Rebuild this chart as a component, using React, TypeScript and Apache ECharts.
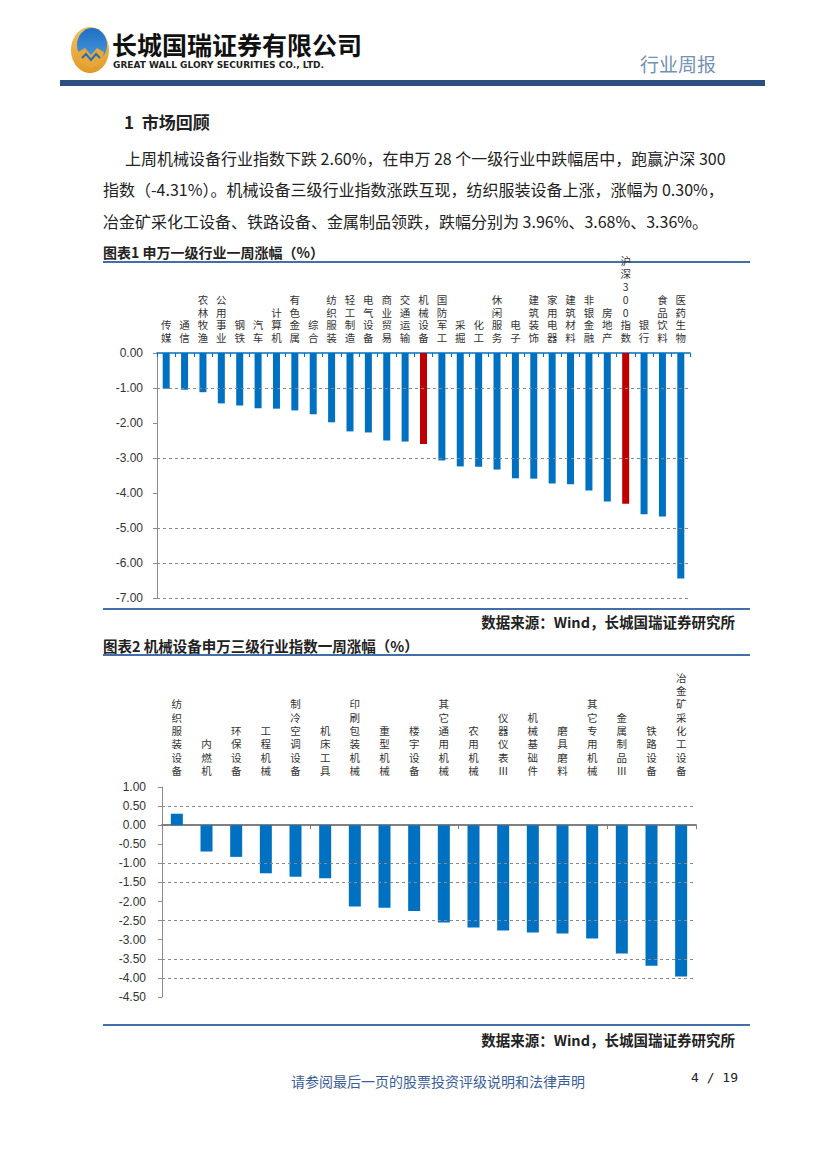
import React, { useEffect, useRef } from "react";
import * as echarts from "echarts";

const cats1 = ["传媒", "通信", "农林牧渔", "公用事业", "钢铁", "汽车", "计算机", "有色金属", "综合", "纺织服装", "轻工制造", "电气设备", "商业贸易", "交通运输", "机械设备", "国防军工", "采掘", "化工", "休闲服务", "电子", "建筑装饰", "家用电器", "建筑材料", "非银金融", "房地产", "沪深300指数", "银行", "食品饮料", "医药生物"];
const vals1 = [-1.02, -1.05, -1.12, -1.44, -1.50, -1.58, -1.59, -1.64, -1.75, -1.98, -2.24, -2.27, -2.50, -2.53, -2.60, -3.07, -3.24, -3.25, -3.33, -3.58, -3.59, -3.73, -3.75, -3.93, -4.24, -4.31, -4.61, -4.67, -6.44];
const highlight1 = ["机械设备", "沪深300指数"];
const grid1Lines = [-1, -3, -5, -6, -7];

const cats2 = ["纺织服装设备", "内燃机", "环保设备", "工程机械", "制冷空调设备", "机床工具", "印刷包装机械", "重型机械", "楼宇设备", "其它通用机械", "农用机械", "仪器仪表Ⅲ", "机械基础件", "磨具磨料", "其它专用机械", "金属制品Ⅲ", "铁路设备", "冶金矿采化工设备"];
const vals2 = [0.30, -0.69, -0.83, -1.26, -1.35, -1.39, -2.13, -2.16, -2.25, -2.55, -2.68, -2.76, -2.81, -2.84, -2.97, -3.36, -3.68, -3.96];
const grid2Lines = [0.5, -1, -1.5, -2.5, -3.5, -4];

const para = [
  "上周机械设备行业指数下跌 2.60%，在申万 28 个一级行业中跌幅居中，跑赢沪深 300",
  "指数（-4.31%）。机械设备三级行业指数涨跌互现，纺织服装设备上涨，涨幅为 0.30%，",
  "冶金矿采化工设备、铁路设备、金属制品领跌，跌幅分别为 3.96%、3.68%、3.36%。",
];

const FONT = "'Noto Sans CJK SC', 'Noto Sans', sans-serif";
const BLUE = "#0070C0";
const RED = "#C00000";
const RULE = "#4170A8";
const GRIDC = "#8a8a8a";

const vertical = (v: string) => v.split("").join("\n");

export default function App() {
  const ref = useRef<HTMLDivElement>(null);
  useEffect(() => {
    if (!ref.current) return;
    const chart = echarts.init(ref.current, undefined, { renderer: "svg" });

    const txt = (x: number, y: number, text: string, style: any = {}) => ({
      type: "text",
      x,
      y,
      silent: true,
      style: { text, fontFamily: FONT, fill: "#222", fontSize: 15, verticalAlign: "middle", align: "left", ...style },
    });
    const rule = (y: number, x1: number, x2: number, color = RULE, w = 2) => ({
      type: "line",
      silent: true,
      shape: { x1, y1: y, x2, y2: y },
      style: { stroke: color, lineWidth: w },
    });

    const gridLineSeries = (lines: number[], xi: number, yi: number) => ({
      type: "line",
      xAxisIndex: xi,
      yAxisIndex: yi,
      data: [],
      silent: true,
      markLine: {
        silent: true,
        symbol: ["none", "none"],
        label: { show: false },
        lineStyle: { type: [3, 3], color: GRIDC, width: 1 },
        data: lines.map((v) => ({ yAxis: v })),
      },
    });

    chart.setOption({
      animation: false,
      backgroundColor: "#ffffff",
      grid: [
        { left: 157, top: 353, width: 533, height: 245, containLabel: false },
        { left: 162, top: 787, width: 534, height: 210, containLabel: false },
      ],
      xAxis: [
        {
          type: "category",
          gridIndex: 0,
          position: "top",
          data: cats1,
          axisLine: { show: true, onZero: true, lineStyle: { color: BLUE, width: 1.5 } },
          axisTick: { show: true, inside: true, length: 4, lineStyle: { color: BLUE } },
          axisLabel: { interval: 0, formatter: vertical, fontSize: 10.5, lineHeight: 12.8, color: "#333", margin: 9, fontFamily: FONT },
        },
        {
          type: "category",
          gridIndex: 1,
          position: "top",
          data: cats2,
          axisLine: { show: false, onZero: false },
          axisTick: { show: false },
          axisLabel: { interval: 0, formatter: vertical, fontSize: 10.5, lineHeight: 13.3, color: "#333", margin: 10, fontFamily: FONT },
        },
        {
          type: "category",
          gridIndex: 1,
          position: "bottom",
          data: cats2,
          axisLine: { show: true, onZero: true, lineStyle: { color: "#808080", width: 2 } },
          axisTick: { show: true, length: 4, lineStyle: { color: "#808080" } },
          axisLabel: { show: false },
        },
      ],
      yAxis: [
        {
          type: "value",
          gridIndex: 0,
          min: -7,
          max: 0,
          interval: 1,
          axisLine: { show: true, lineStyle: { color: "#8c8c8c" } },
          axisTick: { show: true, length: 4, lineStyle: { color: "#8c8c8c" } },
          splitLine: { show: false },
          axisLabel: { formatter: (v: number) => v.toFixed(2), fontSize: 12, color: "#333", margin: 14, fontFamily: "Arial, 'Liberation Sans', sans-serif" },
        },
        {
          type: "value",
          gridIndex: 1,
          min: -4.5,
          max: 1,
          interval: 0.5,
          axisLine: { show: true, lineStyle: { color: "#8c8c8c" } },
          axisTick: { show: true, length: 4, lineStyle: { color: "#8c8c8c" } },
          splitLine: { show: false },
          axisLabel: { formatter: (v: number) => v.toFixed(2), fontSize: 12, color: "#333", margin: 16, fontFamily: "Arial, 'Liberation Sans', sans-serif" },
        },
      ],
      series: [
        gridLineSeries(grid1Lines, 0, 0),
        {
          type: "bar",
          xAxisIndex: 0,
          yAxisIndex: 0,
          barWidth: 7,
          data: vals1.map((v, i) => ({
            value: v,
            itemStyle: { color: highlight1.includes(cats1[i]) ? RED : BLUE },
          })),
        },
        gridLineSeries(grid2Lines, 2, 1),
        {
          type: "bar",
          xAxisIndex: 2,
          yAxisIndex: 1,
          barWidth: 12,
          itemStyle: { color: BLUE },
          data: vals2,
        },
      ],
      graphic: [
        // logo
        {
          type: "ellipse",
          silent: true,
          shape: { cx: 90, cy: 50, rx: 19, ry: 23 },
          style: {
            fill: new echarts.graphic.LinearGradient(0, 0, 0, 1, [
              { offset: 0, color: "#F2C060" },
              { offset: 1, color: "#E09A2A" },
            ]),
          },
        },
        {
          type: "ellipse",
          silent: true,
          shape: { cx: 92, cy: 45, rx: 15, ry: 17 },
          style: {
            fill: new echarts.graphic.LinearGradient(0, 0, 0, 1, [
              { offset: 0, color: "#1F6FC2" },
              { offset: 1, color: "#4A9AE0" },
            ]),
          },
        },
        {
          type: "polygon",
          silent: true,
          shape: { points: [[78, 52], [85, 48], [91, 55], [97, 48], [104, 52], [102, 62], [91, 68], [80, 62]] },
          style: { fill: "#E8A838" },
        },
        {
          type: "polyline",
          silent: true,
          shape: { points: [[82, 58], [86, 54], [91, 60], [96, 54], [100, 58]] },
          style: { stroke: "#1F6FC2", lineWidth: 2, fill: "none" },
        },
        txt(112, 44, "长城国瑞证券有限公司", { fontSize: 25, fontWeight: "bold", fill: "#111" }),
        txt(113, 65, "GREAT WALL GLORY SECURITIES CO., LTD.", { fontSize: 9, fontWeight: "bold", fill: "#222", fontFamily: "'DejaVu Sans', sans-serif" }),
        txt(640, 63, "行业周报", { fontSize: 19, fill: "#7391B4" }),
        {
          type: "rect",
          silent: true,
          shape: { x: 60, y: 80, width: 705, height: 6 },
          style: { fill: "#2B4F7E" },
        },
        txt(124, 121, "1  市场回顾", { fontSize: 17, fontWeight: "bold", fill: "#222" }),
        txt(125, 158, para[0], { fontSize: 16, fill: "#222" }),
        txt(103, 189, para[1], { fontSize: 16, fill: "#222" }),
        txt(103, 221, para[2], { fontSize: 16, fill: "#222" }),
        txt(103, 252, "图表1 申万一级行业一周涨幅（%）", { fontSize: 14, fontWeight: "bold", fill: "#222" }),
        rule(262, 103, 750),
        rule(609, 103, 750),
        txt(735, 621, "数据来源：Wind，长城国瑞证券研究所", { fontSize: 14.5, fontWeight: "bold", align: "right", fill: "#222" }),
        txt(103, 645, "图表2 机械设备申万三级行业指数一周涨幅（%）", { fontSize: 14.5, fontWeight: "bold", fill: "#222" }),
        rule(655, 103, 750),
        rule(1025, 103, 750),
        txt(735, 1039, "数据来源：Wind，长城国瑞证券研究所", { fontSize: 14.5, fontWeight: "bold", align: "right", fill: "#222" }),
        txt(438, 1081, "请参阅最后一页的股票投资评级说明和法律声明", { fontSize: 14, align: "center", fill: "#3B5E96" }),
        txt(738, 1077, "4 / 19", { fontSize: 13, align: "right", fill: "#222", fontFamily: "'DejaVu Sans Mono', monospace" }),
      ],
    });
    return () => chart.dispose();
  }, []);

  return (
    <div
      ref={ref}
      style={{ position: "absolute", left: 0, top: 0, width: 827, height: 1169, background: "#fff" }}
    />
  );
}
